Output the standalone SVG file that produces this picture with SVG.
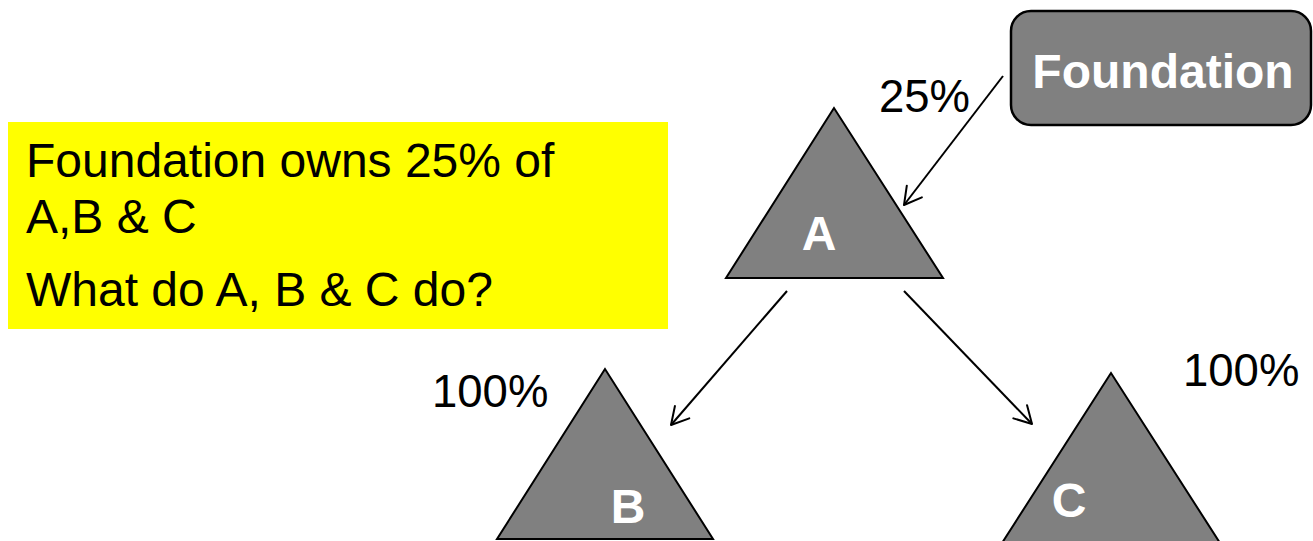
<svg xmlns="http://www.w3.org/2000/svg" width="1313" height="541" viewBox="0 0 1313 541">
  <style>
    .tri { fill: #808080; stroke: #000; stroke-width: 2; stroke-linejoin: miter; }
    .box { fill: #808080; stroke: #000; stroke-width: 2.5; }
    .lbl { font-family: "Liberation Sans", Arial, sans-serif; font-weight: bold; fill: #fff; font-size: 48px; text-anchor: middle; }
    .pct { font-family: "Liberation Sans", Arial, sans-serif; fill: #000; font-size: 45.5px; }
    .note { font-family: "Liberation Sans", Arial, sans-serif; fill: #000; font-size: 48px; }
    .edge { stroke: #000; stroke-width: 2; fill: none; marker-end: url(#head); }
  </style>
  <defs>
    <marker id="head" markerUnits="userSpaceOnUse" orient="auto" viewBox="-20 -12 22 24" markerWidth="22" markerHeight="24" refX="0" refY="0">
      <path d="M-17,-9.5 L0,0 L-17,9.5" fill="none" stroke="#000" stroke-width="2" stroke-linejoin="round" stroke-linecap="round"/>
    </marker>
  </defs>

  <rect width="1313" height="541" fill="#fff"/>

  <!-- note panel -->
  <g id="note">
    <rect x="8" y="122" width="660" height="207" fill="#ffff00"/>
    <text class="note" x="26" y="177">Foundation owns 25% of</text>
    <text class="note" x="26" y="233">A,B &amp; C</text>
    <text class="note" x="26" y="306">What do A, B &amp; C do?</text>
  </g>

  <!-- ownership links -->
  <g id="connectors">
    <line class="edge" x1="1003" y1="76" x2="904" y2="205"/>
    <line class="edge" x1="787" y1="291" x2="671" y2="425"/>
    <line class="edge" x1="904" y1="291" x2="1032" y2="424"/>
  </g>

  <g id="foundation">
    <rect class="box" x="1011" y="11" width="300" height="114" rx="20" ry="20"/>
    <text class="lbl" x="1163" y="88">Foundation</text>
  </g>

  <g id="node-a">
    <polygon class="tri" points="834,108 726,278 943,278"/>
    <text class="lbl" x="819" y="250">A</text>
  </g>

  <g id="node-b">
    <polygon class="tri" points="605,369 497,539 713,539"/>
    <text class="lbl" x="628" y="523">B</text>
  </g>

  <g id="node-c">
    <polygon class="tri" points="1111,373 1002,543 1220,543"/>
    <text class="lbl" x="1069" y="517">C</text>
  </g>

  <g id="labels">
    <text class="pct" x="879" y="112">25%</text>
    <text class="pct" x="432" y="407">100%</text>
    <text class="pct" x="1183" y="386">100%</text>
  </g>
</svg>
